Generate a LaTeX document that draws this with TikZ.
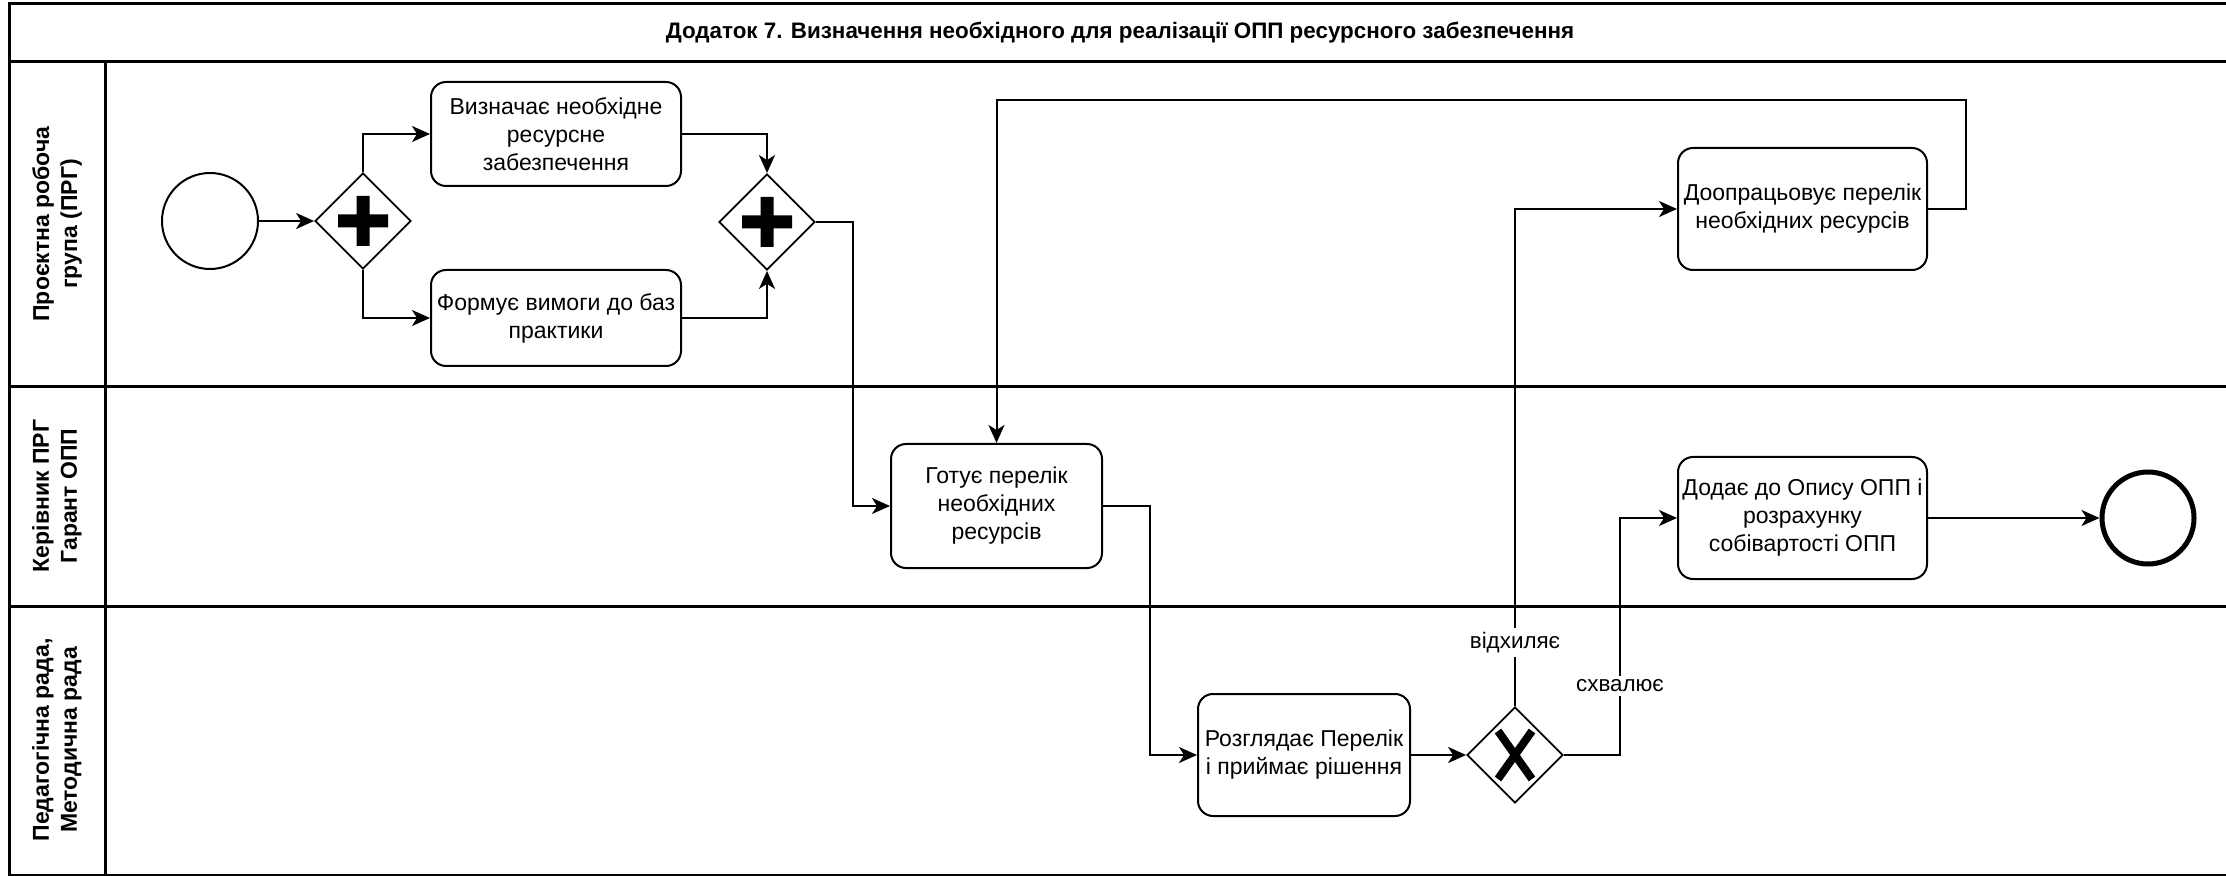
\documentclass[tikz,border=0pt]{standalone}
\usepackage{fontspec}
\setmainfont{Liberation Sans}
\usetikzlibrary{shapes.geometric,arrows.meta}
\begin{document}
\begin{tikzpicture}[x=0.5pt,y=-0.5pt,
  task/.style={draw,line width=1pt,rounded corners=7.5pt,align=center,font=\fontsize{11.5}{14}\selectfont,inner sep=1pt},
  gw/.style={draw,diamond,aspect=1,minimum width=48pt,minimum height=48pt,inner sep=0pt,line width=0.9pt},
  flow/.style={line width=1pt,-{Stealth[length=9pt,width=8pt,inset=2.5pt]}},
  lane/.style={line width=1.5pt},
  lanelbl/.style={rotate=90,align=center,font=\bfseries\fontsize{11.5}{14}\selectfont},
  lbl/.style={fill=white,font=\fontsize{11.2}{13}\selectfont,inner sep=2pt}
]
\fill[white] (0,0) rectangle (2226,876);
\useasboundingbox (0,0) rectangle (2226,876);

% pool and lanes
\draw[lane] (2226,4) -- (9,4) -- (9,875) -- (2226,875);
\draw[lane] (9,61.5) -- (2226,61.5);
\draw[lane] (9,387) -- (2226,387);
\draw[lane] (9,606) -- (2226,606);
\draw[lane] (105,61.5) -- (105,875);

\node[font=\bfseries\fontsize{11.2}{13}\selectfont] (title) at (1120,33) {Додаток 7. Визначення необхідного для реалізації ОПП ресурсного забезпечення};

\node[lanelbl] (l1) at (57,224) {Проєктна робоча\\група (ПРГ)};
\node[lanelbl] (l2) at (57,496) {Керівник ПРГ\\Гарант ОПП};
\node[lanelbl] (l3) at (57,740) {Педагогічна рада,\\Методична рада};

% events
\node[draw,circle,line width=1pt,minimum size=48pt,inner sep=0pt] (start) at (210,221) {};
\node[draw,circle,line width=2.5pt,minimum size=46pt,inner sep=0pt] (end) at (2148,518) {};

% gateways
\node[gw] (g1) at (363,221) {};
\node[gw] (g2) at (767,222) {};
\node[gw] (g3) at (1515,755) {};
\fill[shift={(g1.center)}] (-25,-6.5) rectangle (25,6.5) (-6.5,-25) rectangle (6.5,25);
\fill[shift={(g2.center)}] (-25,-6.5) rectangle (25,6.5) (-6.5,-25) rectangle (6.5,25);
\draw[line width=4pt,shift={(g3.center)}] (-17,-24) -- (17,24) (-17,24) -- (17,-24);

% tasks
\node[task,minimum width=125pt,minimum height=52pt] (t1) at (556,134) {Визначає необхідне\\ресурсне\\забезпечення};
\node[task,minimum width=125pt,minimum height=48pt] (t2) at (556,318) {Формує вимоги до баз\\практики};
\node[task,minimum width=105.5pt,minimum height=62pt] (t3) at (996.5,506) {Готує перелік\\необхідних\\ресурсів};
\node[task,minimum width=106pt,minimum height=61pt] (t4) at (1304,755) {Розглядає Перелік\\і приймає рішення};
\node[task,minimum width=124.5pt,minimum height=61pt] (t5) at (1802.5,209) {Доопрацьовує перелік\\необхідних ресурсів};
\node[task,minimum width=124.5pt,minimum height=61pt] (t6) at (1802.5,518) {Додає до Опису ОПП і\\розрахунку\\собівартості ОПП};

% bend points
\coordinate (b1) at (853,222);
\coordinate (b2) at (1150,506);
\coordinate (b3) at (1966,209);
\coordinate (b4) at (996.5,100);
\coordinate (b5) at (1620,755);

% flows
\draw[flow] (start) -- (g1);
\draw[flow] (g1.north) |- (t1.west);
\draw[flow] (g1.south) |- (t2.west);
\draw[flow] (t1.east) -| (g2.north);
\draw[flow] (t2.east) -| (g2.south);
\draw[flow] (g2.east) -- (b1) |- (t3.west);
\draw[flow] (t3.east) -- (b2) |- (t4.west);
\draw[flow] (t4) -- (g3);
\draw[flow] (g3.north) |- node[lbl,pos=0.064] {відхиляє} (t5.west);
\draw[flow] (g3.east) -- (b5) |- node[lbl,pos=0.146] {схвалює} (t6.west);
\draw[flow] (t5.east) -- (b3) |- (b4) -- (t3.north);
\draw[flow] (t6) -- (end);
\end{tikzpicture}
\end{document}
